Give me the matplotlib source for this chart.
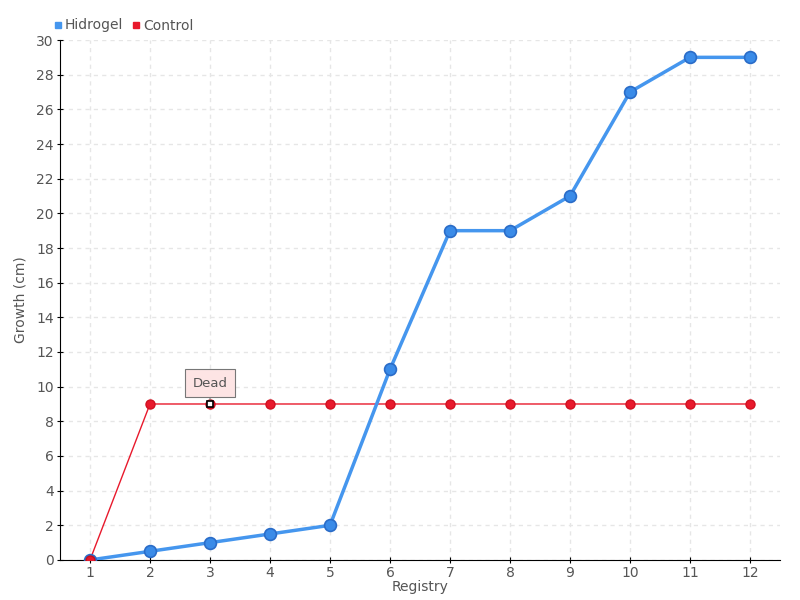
import matplotlib
matplotlib.use("Agg")
import matplotlib.pyplot as plt
from matplotlib.lines import Line2D

plt.rcParams['font.family'] = ['Liberation Sans Narrow', 'DejaVu Sans']

registry = [1, 2, 3, 4, 5, 6, 7, 8, 9, 10, 11, 12]
hidrogel = [0, 0.5, 1, 1.5, 2, 11, 19, 19, 21, 27, 29, 29]
control = [0, 9, 9, 9, 9, 9, 9, 9, 9, 9, 9, 9]
dead_idx = 2

blue = "#4596ee"
red = "#e8192c"
txt = "#555555"

fig = plt.figure(figsize=(8, 6), dpi=100)
ax = fig.add_axes([0.075, 0.0667, 0.9, 0.8666])

ax.plot(registry, control, color=red, lw=1, marker="o", ms=6.5,
        markerfacecolor=red, markeredgecolor="#d01020", zorder=3)
ax.plot(registry, hidrogel, color=blue, lw=2.5, marker="o", ms=8.5,
        markerfacecolor="#3a8be8", markeredgecolor="#2a6cc8", mew=1.2, zorder=4)
ax.plot(registry[0], control[0], "o", ms=6.5, color=red, markeredgecolor="#c01020", zorder=5)

# dead marker and callout
ax.plot(registry[dead_idx], control[dead_idx], "s", ms=5, markerfacecolor="white",
        markeredgecolor="black", mew=1.2, zorder=6)
ax.annotate("Dead", xy=(registry[dead_idx], control[dead_idx]),
            xytext=(0, 15), textcoords="offset points", ha="center", va="center",
            fontsize=9.5, color=txt,
            bbox=dict(boxstyle="square,pad=0.55", fc="#fde4e4", ec="#777777", lw=0.8),
            arrowprops=dict(arrowstyle="-", color="#777777", lw=0.8, shrinkA=0, shrinkB=3),
            zorder=7)

ax.set_xlim(0.5, 12.5)
ax.set_ylim(0, 30)
ax.set_xticks(registry)
ax.set_yticks(range(0, 31, 2))
ax.tick_params(labelcolor=txt, labelsize=10, direction="inout", length=5, color="black", pad=2)
for s in ["top", "right"]:
    ax.spines[s].set_visible(False)
ax.grid(True, ls=(0, (3, 3)), color="#e6e6e6", lw=1)
ax.set_axisbelow(True)
ax.set_xlabel("Registry", color=txt, fontsize=10, labelpad=0)
ax.set_ylabel("Growth (cm)", color=txt, fontsize=10, labelpad=6)

handles = [Line2D([], [], ls="", marker="s", ms=5, color=blue),
           Line2D([], [], ls="", marker="s", ms=5, color=red)]
fig.legend(handles, ["Hidrogel", "Control"], loc="upper left", bbox_to_anchor=(0.05, 0.99),
           ncol=2, frameon=False, handletextpad=0.1, columnspacing=0.5, handlelength=0.8,
           fontsize=10, labelcolor=txt)

fig.savefig("out.png", dpi=100)
